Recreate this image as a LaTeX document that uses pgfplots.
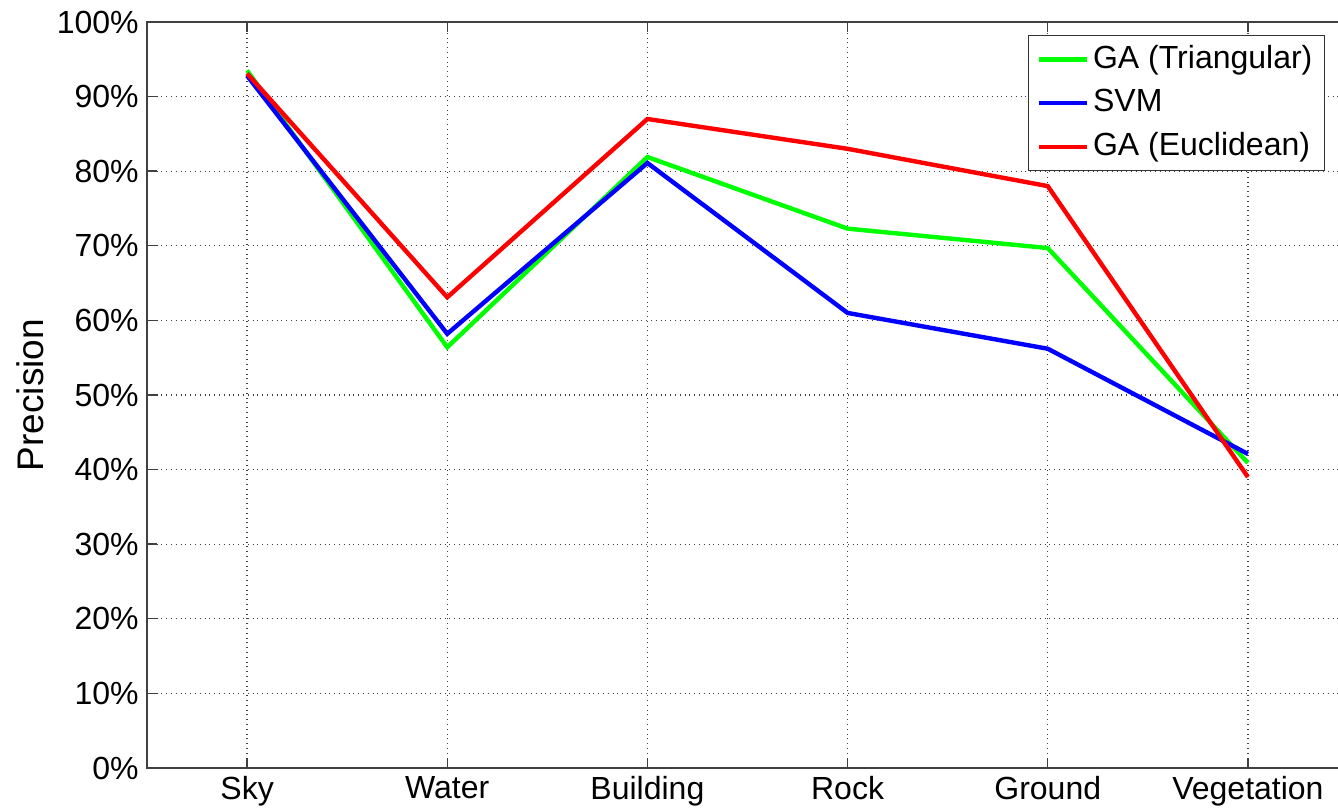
\documentclass[border=0pt]{standalone}
\usepackage{pgfplots}
\pgfplotsset{compat=1.18}
\usepackage{fontspec}
\setmainfont{Liberation Sans}
\begin{document}
\fontsize{16}{19}\selectfont
\begin{tikzpicture}
\begin{axis}[
  name=ax,
  scale only axis,
  width=600.5pt, height=373pt,
  xmin=-0.5, xmax=5.5,
  ymin=0, ymax=100,
  xtick={0,1,2,3,4,5},
  xticklabels={Sky,Water,Building,Rock,Ground,Vegetation},
  ytick={0,10,...,100},
  yticklabel={\pgfmathprintnumber{\tick}\%},
  /pgf/number format/assume math mode=true,
  tick align=inside,
  major tick length=5pt,
  xtick pos=both, ytick pos=left,
  grid=major,
  major grid style={black!75, dotted, line width=0.6pt},
  axis line style={black!75, line width=0.7pt},
  tick style={black!75, line width=0.7pt},
  ylabel={\fontsize{18.5}{22}\selectfont Precision},
  ylabel style={at={(axis description cs:0,0.5)}, yshift=58.5pt, anchor=center},
  xticklabel style={inner sep=1pt, yshift=-3pt},
  yticklabel style={inner sep=1pt, xshift=-3pt},
  legend style={at={(1,1)}, anchor=north east, xshift=-11.5pt, yshift=-6.5pt,
    draw=black!80, line width=0.6pt, inner xsep=4pt, inner ysep=3pt,
    cells={anchor=west}, row sep=4pt, font=\fontsize{16}{19}\selectfont},
  legend image code/.code={\draw[#1, line width=2.2pt] (0cm,0cm) -- (0.85cm,0cm);},
  every axis plot/.append style={line width=2.2pt},
]
\addplot[color={rgb,255:red,0;green,255;blue,0}] coordinates {(0,93.5) (1,56.4) (2,81.9) (3,72.3) (4,69.7) (5,40.9)};
\addplot[color={rgb,255:red,0;green,0;blue,255}] coordinates {(0,92.8) (1,58.2) (2,81.1) (3,61.0) (4,56.2) (5,42.1)};
\addplot[color={rgb,255:red,255;green,0;blue,0}] coordinates {(0,93.1) (1,63.1) (2,87.0) (3,83.0) (4,78.0) (5,39.0)};
\legend{GA (Triangular),SVM,GA (Euclidean)}
\end{axis}
\pgfresetboundingbox
\path ([xshift=-73.5pt,yshift=-20pt]ax.south west) rectangle ([xshift=-5pt,yshift=11pt]ax.north east);
\end{tikzpicture}
\end{document}
